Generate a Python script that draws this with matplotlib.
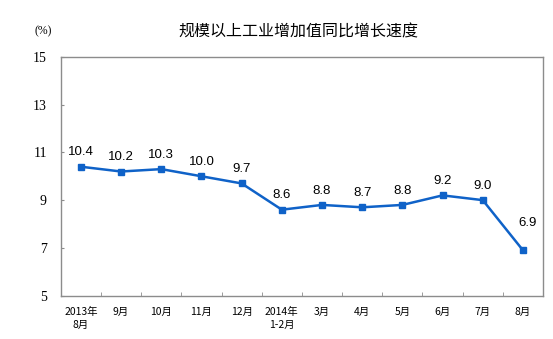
import matplotlib.pyplot as plt
import numpy as np

plt.rcParams['font.family'] = ['Noto Sans CJK SC', 'DejaVu Sans']

months = ["2013年\n8月", "9月", "10月", "11月", "12月", "2014年\n1-2月",
          "3月", "4月", "5月", "6月", "7月", "8月"]
growth = [10.4, 10.2, 10.3, 10.0, 9.7, 8.6, 8.8, 8.7, 8.8, 9.2, 9.0, 6.9]
y_ticks = [5, 7, 9, 11, 13, 15]

LINE_COLOR = "#0f62c8"
SPINE_COLOR = "#8c8c8c"

figure = plt.figure(figsize=(5.53, 3.39), dpi=100)
axis = figure.add_axes([0.110, 0.128, 0.872, 0.704])

positions = np.arange(len(months))
axis.plot(positions, growth, c=LINE_COLOR, linewidth=1.8, marker="s", markersize=5)

for x, value in zip(positions, growth):
    if x == len(months) - 1:
        offset = (3, 15)
    else:
        offset = (0, 6)
    axis.annotate(f"{value:.1f}", (x, value), xytext=offset, textcoords="offset points",
                  ha="center", va="bottom", fontsize=9.5, family="Liberation Sans")

axis.set_xlim(-0.5, len(months) - 0.5)
axis.set_ylim(5, 15)
axis.set_yticks(y_ticks)
axis.set_yticklabels([str(t) for t in y_ticks], family="Liberation Serif", fontsize=10)
axis.set_xticks(positions)
axis.set_xticklabels(months, fontsize=7.5, linespacing=1.4, va="top")
axis.set_xticks(positions[:-1] + 0.5, minor=True)
axis.tick_params(axis="x", which="major", length=0, pad=8)
axis.tick_params(axis="x", which="minor", direction="in", length=3, color=SPINE_COLOR)
axis.tick_params(axis="y", direction="in", length=2, color=SPINE_COLOR, pad=10)

for spine in axis.spines.values():
    spine.set_color(SPINE_COLOR)
    spine.set_linewidth(1)

figure.text(0.54, 0.905, "规模以上工业增加值同比增长速度", ha="center", va="center", fontsize=11.5)
figure.text(0.078, 0.908, "(%)", ha="center", va="center", fontsize=8.5, family="Liberation Serif")

figure.savefig("out.png", dpi=100)
